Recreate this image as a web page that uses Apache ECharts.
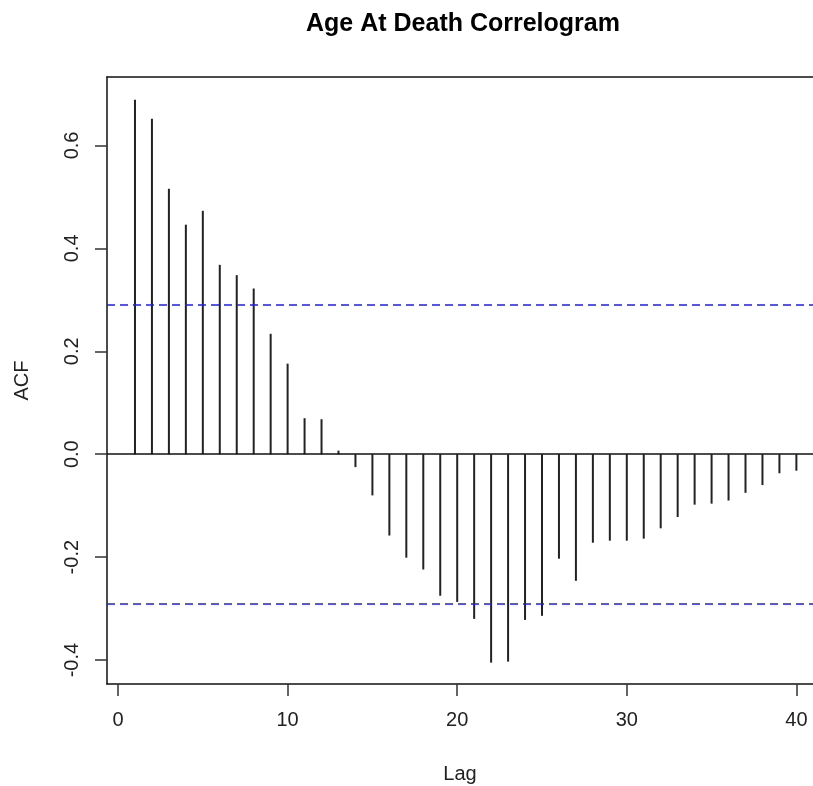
<!DOCTYPE html>
<html>
<head>
<meta charset="utf-8">
<script src="https://cdn.jsdelivr.net/npm/echarts@6/dist/echarts.min.js"></script>
<style>html,body{margin:0;padding:0;background:#fff;}#c{width:813px;height:786px;}</style>
</head>
<body>
<div id="c"></div>
<script>
const lags = [1,2,3,4,5,6,7,8,9,10,11,12,13,14,15,16,17,18,19,20,21,22,23,24,25,26,27,28,29,30,31,32,33,34,35,36,37,38,39,40];
const acfValues = [0.689,0.652,0.516,0.446,0.473,0.368,0.348,0.322,0.234,0.176,0.070,0.068,0.007,-0.025,-0.080,-0.158,-0.201,-0.224,-0.275,-0.287,-0.320,-0.405,-0.403,-0.322,-0.314,-0.203,-0.246,-0.172,-0.168,-0.168,-0.164,-0.144,-0.122,-0.098,-0.096,-0.090,-0.075,-0.060,-0.037,-0.032];
const ciBound = 0.289;
const xTicks = [0,10,20,30,40];
const yTicks = [-0.4,-0.2,0.0,0.2,0.4,0.6];
const titleText = 'Age At Death Correlogram';

const font = 'Liberation Sans, Arial, sans-serif';
const xMin = -0.65, xMax = 40.98, yMin = -0.4465, yMax = 0.733;
const boxLine = {show:true,onZero:false,lineStyle:{color:'#111',width:1.5}};
const chart = echarts.init(document.getElementById('c'), null, {renderer:'canvas'});
chart.setOption({
  animation:false,
  backgroundColor:'#fff',
  title:{text:titleText,left:458,top:7,textAlign:'center',
    textStyle:{fontFamily:font,fontWeight:'bold',fontSize:25,color:'#000'}},
  grid:{left:107,right:0,top:77,bottom:102,show:false,outerBoundsMode:'none'},
  xAxis:[{type:'value',min:xMin,max:xMax,position:'bottom',
    name:'Lag',nameLocation:'middle',nameGap:80,
    nameTextStyle:{fontFamily:font,fontSize:20,color:'#222'},
    axisLine:boxLine,
    splitLine:{show:false},
    axisTick:{show:true,length:12,lineStyle:{color:'#333',width:1.5},customValues:xTicks},
    axisLabel:{fontFamily:font,fontSize:20,color:'#222',margin:26,customValues:xTicks,formatter:v=>String(v)}
  },{type:'value',min:xMin,max:xMax,position:'top',
    axisLine:boxLine,axisTick:{show:false},axisLabel:{show:false},splitLine:{show:false}
  }],
  yAxis:{type:'value',min:yMin,max:yMax,position:'left',
    name:'ACF',nameLocation:'middle',nameGap:75,nameRotate:90,
    nameTextStyle:{fontFamily:font,fontSize:20,color:'#222'},
    axisLine:boxLine,
    splitLine:{show:false},
    axisTick:{show:true,length:12,lineStyle:{color:'#333',width:1.5},customValues:yTicks},
    axisLabel:{fontFamily:font,fontSize:20,color:'#222',margin:25,rotate:90,customValues:yTicks,formatter:v=>v.toFixed(1)}
  },
  series:[{
    type:'bar',
    xAxisIndex:0,
    data:lags.map((l,i)=>[l,acfValues[i]]),
    barWidth:2,
    itemStyle:{color:'#222'},
    silent:true,
    markLine:{silent:true,symbol:'none',label:{show:false},
      data:[
        {yAxis:0,lineStyle:{color:'#111',width:1.5,type:'solid'}},
        {yAxis:ciBound,lineStyle:{color:'#1a1aff',width:1.5,type:[8,5]}},
        {yAxis:-ciBound,lineStyle:{color:'#1a1aff',width:1.5,type:[8,5]}}
      ]}
  }]
});
</script>
</body>
</html>
